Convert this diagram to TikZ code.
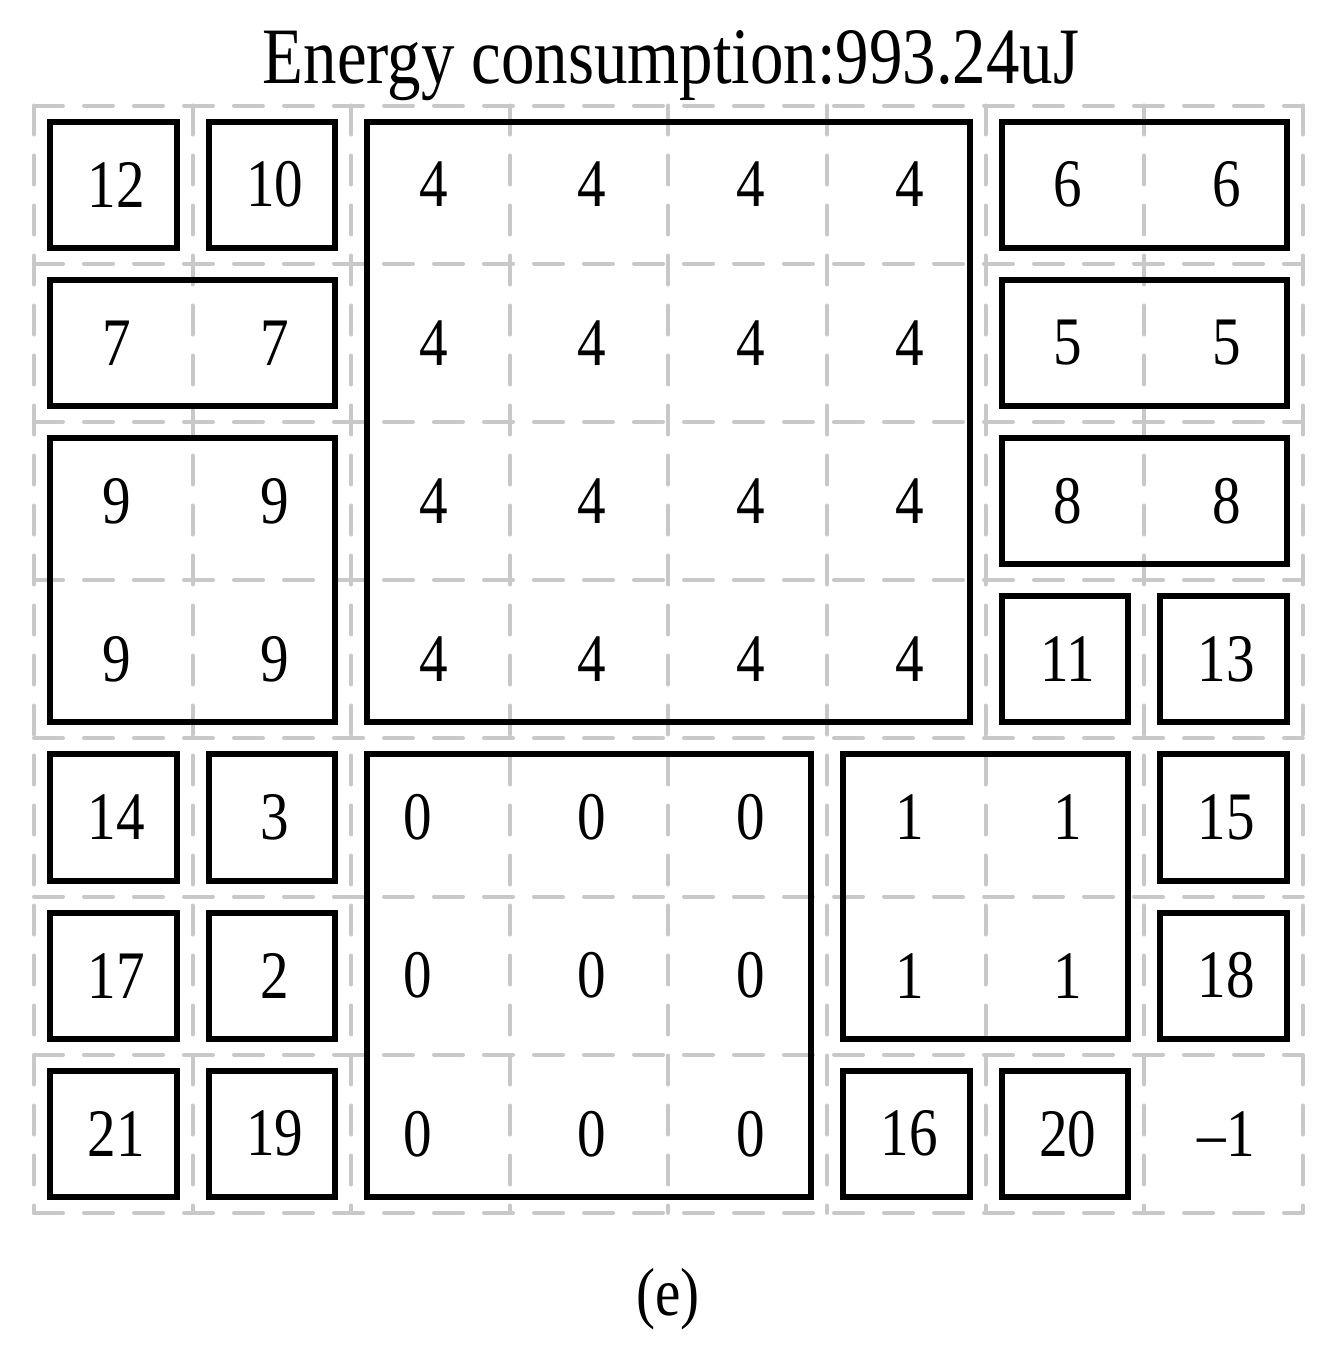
\documentclass[tikz,border=0pt]{standalone}
\usepackage{fontspec}
\usepackage{graphicx}
\setmainfont{Liberation Serif}
\newcommand\sxnum[1]{\scalebox{0.84}[1]{#1}}
\tikzset{
  gridline/.style={line width=2pt, draw={rgb,255:red,200;green,200;blue,200}, dash pattern=on 14.5pt off 10.5pt, line cap=round},
  boxline/.style={line width=3pt, draw=black},
  numtext/.style={inner sep=0pt, font=\fontsize{34}{40}\selectfont},
  titletext/.style={inner sep=0pt, font=\fontsize{40}{48}\selectfont}
}
\newcommand\gbox[4]{\draw[boxline] ({34+158.6*#1+16},{105.5+158.2*#2+16}) rectangle ({34+158.6*(#3+1)-16},{105.5+158.2*(#4+1)-16});}
\newcommand\gnum[4]{\node[numtext] (#1) at ({37+158.6*(#2+0.5)},{105.5+158.2*(#3+0.5)}) {\sxnum{#4}};}
\begin{document}
\begin{tikzpicture}[x=0.5pt,y=-0.5pt]
\useasboundingbox (0,0) rectangle (1324,1360);
% dashed grid
\foreach \i in {0,...,7} {\draw[gridline] (34,{105.5+158.2*\i}) -- (1302.8,{105.5+158.2*\i});}
\foreach \j in {0,...,8} {\draw[gridline] ({34+158.6*\j},105.5) -- ({34+158.6*\j},1212.9);}
% title and caption
\node[titletext, anchor=base] (title) at (671,83) {\scalebox{0.836}[1]{Energy consumption:993.24uJ}};
\node[numtext] (caption) at (668,1299) {\sxnum{(e)}};
% boxes
\gbox{0}{0}{0}{0}
\gbox{1}{0}{1}{0}
\gbox{2}{0}{5}{3}
\gbox{6}{0}{7}{0}
\gbox{0}{1}{1}{1}
\gbox{6}{1}{7}{1}
\gbox{0}{2}{1}{3}
\gbox{6}{2}{7}{2}
\gbox{6}{3}{6}{3}
\gbox{7}{3}{7}{3}
\gbox{0}{4}{0}{4}
\gbox{1}{4}{1}{4}
\gbox{2}{4}{4}{6}
\gbox{5}{4}{6}{5}
\gbox{7}{4}{7}{4}
\gbox{0}{5}{0}{5}
\gbox{1}{5}{1}{5}
\gbox{7}{5}{7}{5}
\gbox{0}{6}{0}{6}
\gbox{1}{6}{1}{6}
\gbox{5}{6}{5}{6}
\gbox{6}{6}{6}{6}
% numbers
\gnum{n00}{0}{0}{12}
\gnum{n10}{1}{0}{10}
\foreach \c in {2,...,5} {\foreach \r in {0,...,3} {\gnum{n\c\r}{\c}{\r}{4}}}
\gnum{n60}{6}{0}{6}
\gnum{n70}{7}{0}{6}
\gnum{n01}{0}{1}{7}
\gnum{n11}{1}{1}{7}
\gnum{n61}{6}{1}{5}
\gnum{n71}{7}{1}{5}
\gnum{n02}{0}{2}{9}
\gnum{n12}{1}{2}{9}
\gnum{n03}{0}{3}{9}
\gnum{n13}{1}{3}{9}
\gnum{n62}{6}{2}{8}
\gnum{n72}{7}{2}{8}
\gnum{n63}{6}{3}{11}
\gnum{n73}{7}{3}{13}
\gnum{n04}{0}{4}{14}
\gnum{n14}{1}{4}{3}
\foreach \r in {4,5,6} {
  \node[numtext] (n2\r) at (418,{105.5+158.2*(\r+0.5)}) {\sxnum{0}};
  \gnum{n3\r}{3}{\r}{0}
  \gnum{n4\r}{4}{\r}{0}
}
\gnum{n54}{5}{4}{1}
\gnum{n64}{6}{4}{1}
\gnum{n55}{5}{5}{1}
\gnum{n65}{6}{5}{1}
\gnum{n74}{7}{4}{15}
\gnum{n05}{0}{5}{17}
\gnum{n15}{1}{5}{2}
\gnum{n75}{7}{5}{18}
\gnum{n06}{0}{6}{21}
\gnum{n16}{1}{6}{19}
\gnum{n56}{5}{6}{16}
\gnum{n66}{6}{6}{20}
\gnum{n76}{7}{6}{--1}
\end{tikzpicture}
\end{document}
